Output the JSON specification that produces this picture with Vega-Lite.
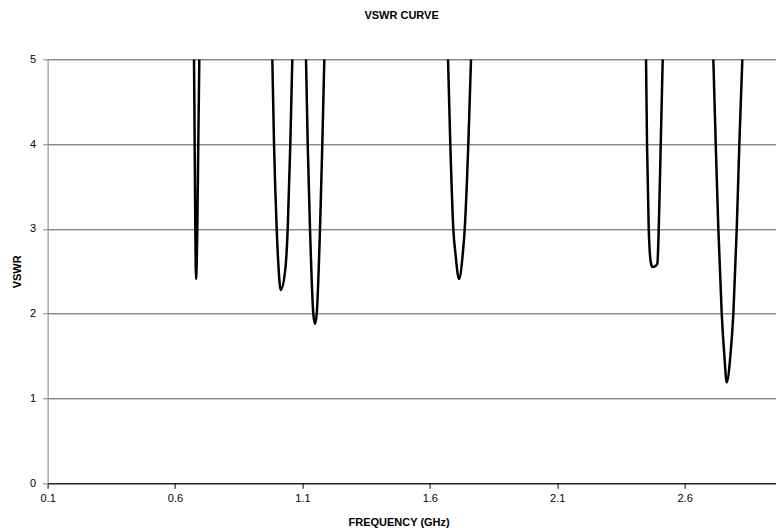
{
  "$schema": "https://vega.github.io/schema/vega-lite/v6.json",
  "width": 728,
  "height": 424,
  "autosize": {"type": "none"},
  "padding": {"left": 47.6, "top": 59.3, "right": 0.4, "bottom": 44.7},
  "background": "white",
  "config": {"view": {"stroke": null}, "font": "Liberation Sans"},
  "title": {"text": "VSWR CURVE", "font": "Liberation Sans", "fontSize": 11, "fontWeight": "bold", "color": "black", "anchor": "middle", "offset": 32, "dx": -10},
  "data": {"values": [
    {"dip": 1, "freq": 0.6746, "vswr": 5.0},
    {"dip": 1, "freq": 0.6797, "vswr": 3.0},
    {"dip": 1, "freq": 0.6812, "vswr": 2.6},
    {"dip": 1, "freq": 0.6824, "vswr": 2.41},
    {"dip": 1, "freq": 0.6852, "vswr": 2.6},
    {"dip": 1, "freq": 0.6875, "vswr": 3.0},
    {"dip": 1, "freq": 0.6914, "vswr": 4.0},
    {"dip": 1, "freq": 0.6954, "vswr": 5.0},
    {"dip": 2, "freq": 0.9819, "vswr": 5.0},
    {"dip": 2, "freq": 0.9886, "vswr": 4.0},
    {"dip": 2, "freq": 0.9991, "vswr": 3.0},
    {"dip": 2, "freq": 1.0062, "vswr": 2.55},
    {"dip": 2, "freq": 1.0148, "vswr": 2.28},
    {"dip": 2, "freq": 1.0337, "vswr": 2.55},
    {"dip": 2, "freq": 1.0423, "vswr": 3.0},
    {"dip": 2, "freq": 1.0525, "vswr": 4.0},
    {"dip": 2, "freq": 1.0604, "vswr": 5.0},
    {"dip": 3, "freq": 1.1141, "vswr": 5.0},
    {"dip": 3, "freq": 1.1208, "vswr": 4.0},
    {"dip": 3, "freq": 1.1298, "vswr": 3.0},
    {"dip": 3, "freq": 1.1428, "vswr": 2.0},
    {"dip": 3, "freq": 1.1495, "vswr": 1.88},
    {"dip": 3, "freq": 1.1561, "vswr": 2.0},
    {"dip": 3, "freq": 1.1691, "vswr": 3.0},
    {"dip": 3, "freq": 1.1781, "vswr": 4.0},
    {"dip": 3, "freq": 1.186, "vswr": 5.0},
    {"dip": 4, "freq": 1.6714, "vswr": 5.0},
    {"dip": 4, "freq": 1.6804, "vswr": 4.0},
    {"dip": 4, "freq": 1.6922, "vswr": 3.0},
    {"dip": 4, "freq": 1.7009, "vswr": 2.7},
    {"dip": 4, "freq": 1.7146, "vswr": 2.41},
    {"dip": 4, "freq": 1.7291, "vswr": 2.7},
    {"dip": 4, "freq": 1.737, "vswr": 3.0},
    {"dip": 4, "freq": 1.7511, "vswr": 4.0},
    {"dip": 4, "freq": 1.7617, "vswr": 5.0},
    {"dip": 5, "freq": 2.4485, "vswr": 5.0},
    {"dip": 5, "freq": 2.4524, "vswr": 4.0},
    {"dip": 5, "freq": 2.4591, "vswr": 3.0},
    {"dip": 5, "freq": 2.4681, "vswr": 2.59},
    {"dip": 5, "freq": 2.4748, "vswr": 2.55},
    {"dip": 5, "freq": 2.4838, "vswr": 2.56},
    {"dip": 5, "freq": 2.4929, "vswr": 2.59},
    {"dip": 5, "freq": 2.4984, "vswr": 3.0},
    {"dip": 5, "freq": 2.5062, "vswr": 4.0},
    {"dip": 5, "freq": 2.514, "vswr": 5.0},
    {"dip": 6, "freq": 2.7126, "vswr": 5.0},
    {"dip": 6, "freq": 2.7221, "vswr": 4.0},
    {"dip": 6, "freq": 2.7323, "vswr": 3.0},
    {"dip": 6, "freq": 2.7456, "vswr": 2.0},
    {"dip": 6, "freq": 2.756, "vswr": 1.5},
    {"dip": 6, "freq": 2.7652, "vswr": 1.19},
    {"dip": 6, "freq": 2.7794, "vswr": 1.5},
    {"dip": 6, "freq": 2.7912, "vswr": 2.0},
    {"dip": 6, "freq": 2.8045, "vswr": 3.0},
    {"dip": 6, "freq": 2.8147, "vswr": 4.0},
    {"dip": 6, "freq": 2.8265, "vswr": 5.0}
  ]},
  "mark": {"type": "line", "interpolate": "monotone", "color": "black", "strokeWidth": 2.5, "clip": true},
  "encoding": {
    "x": {
      "field": "freq", "type": "quantitative",
      "scale": {"domain": [0.1, 2.957], "nice": false, "zero": false},
      "axis": {
        "values": [0.1, 0.6, 1.1, 1.6, 2.1, 2.6], "format": ".1f", "grid": false,
        "domainColor": "black", "tickColor": "black", "tickSize": 5, "labelFlush": false,
        "labelFontSize": 11, "labelColor": "black", "labelPadding": 4,
        "title": "FREQUENCY (GHz)", "titleFontSize": 11, "titleFontWeight": "bold", "titleColor": "black",
        "titleX": 351, "titleY": 39, "titleBaseline": "middle"
      }
    },
    "y": {
      "field": "vswr", "type": "quantitative",
      "scale": {"domain": [0, 5], "nice": false},
      "axis": {
        "values": [0, 1, 2, 3, 4, 5], "format": "d", "grid": true, "gridColor": "#555555", "gridOpacity": 1,
        "domainColor": "#808080", "tickColor": "#808080", "tickSize": 5,
        "labelFontSize": 11, "labelColor": "black", "labelPadding": 7,
        "title": "VSWR", "titleFontSize": 11, "titleFontWeight": "bold", "titleColor": "black",
        "titleX": -30, "titleY": 212, "titleBaseline": "middle"
      }
    },
    "detail": {"field": "dip"}
  }
}
